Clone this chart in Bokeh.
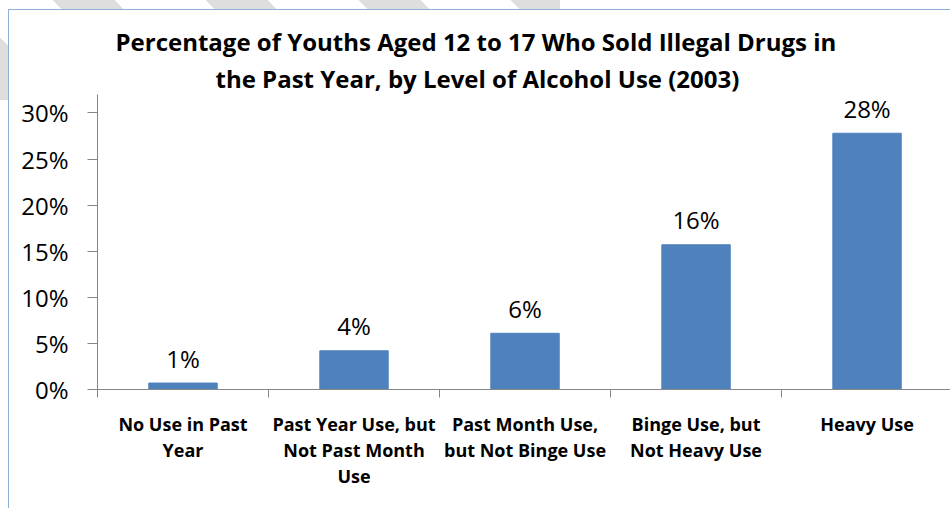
from bokeh.plotting import figure
from bokeh.models import Range1d, FixedTicker, ColumnDataSource, Title
from bokeh.core.properties import value
from bokeh.embed import file_html
from bokeh.resources import INLINE

categories = ["No Use in Past\nYear", "Past Year Use, but\nNot Past Month\nUse",
              "Past Month Use,\nbut Not Binge Use", "Binge Use, but\nNot Heavy Use", "Heavy Use"]
values = [0.7, 4.2, 6.1, 15.7, 27.8]
bar_labels = ["1%", "4%", "6%", "16%", "28%"]
y_ticks = [0, 5, 10, 15, 20, 25, 30]
y_tick_labels = ["0%", "5%", "10%", "15%", "20%", "25%", "30%"]
title_lines = ["Percentage of Youths Aged 12 to 17 Who Sold Illegal Drugs in",
               "the Past Year, by Level of Alcohol Use (2003)"]

centers = [i + 0.5 for i in range(len(categories))]
src = ColumnDataSource(dict(x=centers, top=values, lab=bar_labels))

FONT = "Open Sans"
AXIS_GRAY = "#868686"
BORDER_BLUE = "#8fb0d8"

p = figure(width=950, height=508, output_backend="svg", toolbar_location=None,
           x_range=Range1d(0, 4.988), y_range=Range1d(0, 32))
p.min_border_left = 97
p.min_border_right = 0
p.min_border_top = 94
p.min_border_bottom = 119
p.outline_line_color = None
p.xgrid.visible = False
p.ygrid.visible = False
p.background_fill_color = "white"
p.border_fill_color = None
p.styles = {
    "background-color": "white",
    "background-image": ("linear-gradient(white, white), "
                         f"linear-gradient({BORDER_BLUE}, {BORDER_BLUE}), "
                         "repeating-linear-gradient(45deg, #dedede 0px, #dedede 44px, "
                         "white 44px, white 108px)"),
    "background-position": "9px 10px, 8px 9px, 0px 0px",
    "background-size": "100% 100%, 100% 100%, 560px 100px",
    "background-repeat": "no-repeat, no-repeat, no-repeat",
}

t1 = Title(text=title_lines[1], align="left",
           text_font=FONT, text_font_size="24px", text_font_style="bold",
           text_color="black", offset=118, standoff=0)
t2 = Title(text=title_lines[0], align="left",
           text_font=FONT, text_font_size="24px", text_font_style="bold",
           text_color="black", offset=18, standoff=3)
p.add_layout(t1, "above")
p.add_layout(t2, "above")
p.title.visible = False

p.vbar(x="x", top="top", width=0.4, source=src, fill_color="#4F81BD", line_color="#4F81BD")
p.text(x="x", y="top", text="lab", source=src, text_align="center", text_baseline="middle",
       y_offset=-25, text_font=value(FONT), text_font_size="24px", text_color="black")

# y axis
ya = p.yaxis[0]
ya.ticker = FixedTicker(ticks=y_ticks)
ya.major_label_overrides = {t: l for t, l in zip(y_ticks, y_tick_labels)}
ya.major_label_text_font = FONT
ya.major_label_text_font_size = "24px"
ya.major_label_text_color = "black"
ya.major_tick_in = 0
ya.major_tick_out = 10
ya.minor_tick_out = 0
ya.minor_tick_in = 0
ya.major_label_standoff = 19
ya.axis_line_color = AXIS_GRAY
ya.major_tick_line_color = AXIS_GRAY

# x axis
xa = p.xaxis[0]
xa.ticker = FixedTicker(ticks=centers, minor_ticks=[0, 1, 2, 3, 4, 5])
xa.major_label_overrides = {c: l for c, l in zip(centers, categories)}
xa.major_label_text_font = FONT
xa.major_label_text_font_size = "18px"
xa.major_label_text_font_style = "bold"
xa.major_label_text_color = "black"
xa.major_label_text_line_height = 1.1
xa.major_tick_in = 0
xa.major_tick_out = 0
xa.minor_tick_in = 0
xa.minor_tick_out = 8
xa.minor_tick_line_color = AXIS_GRAY
xa.major_label_standoff = 14
xa.axis_line_color = AXIS_GRAY

open("out.html", "w").write(file_html(p, INLINE))
